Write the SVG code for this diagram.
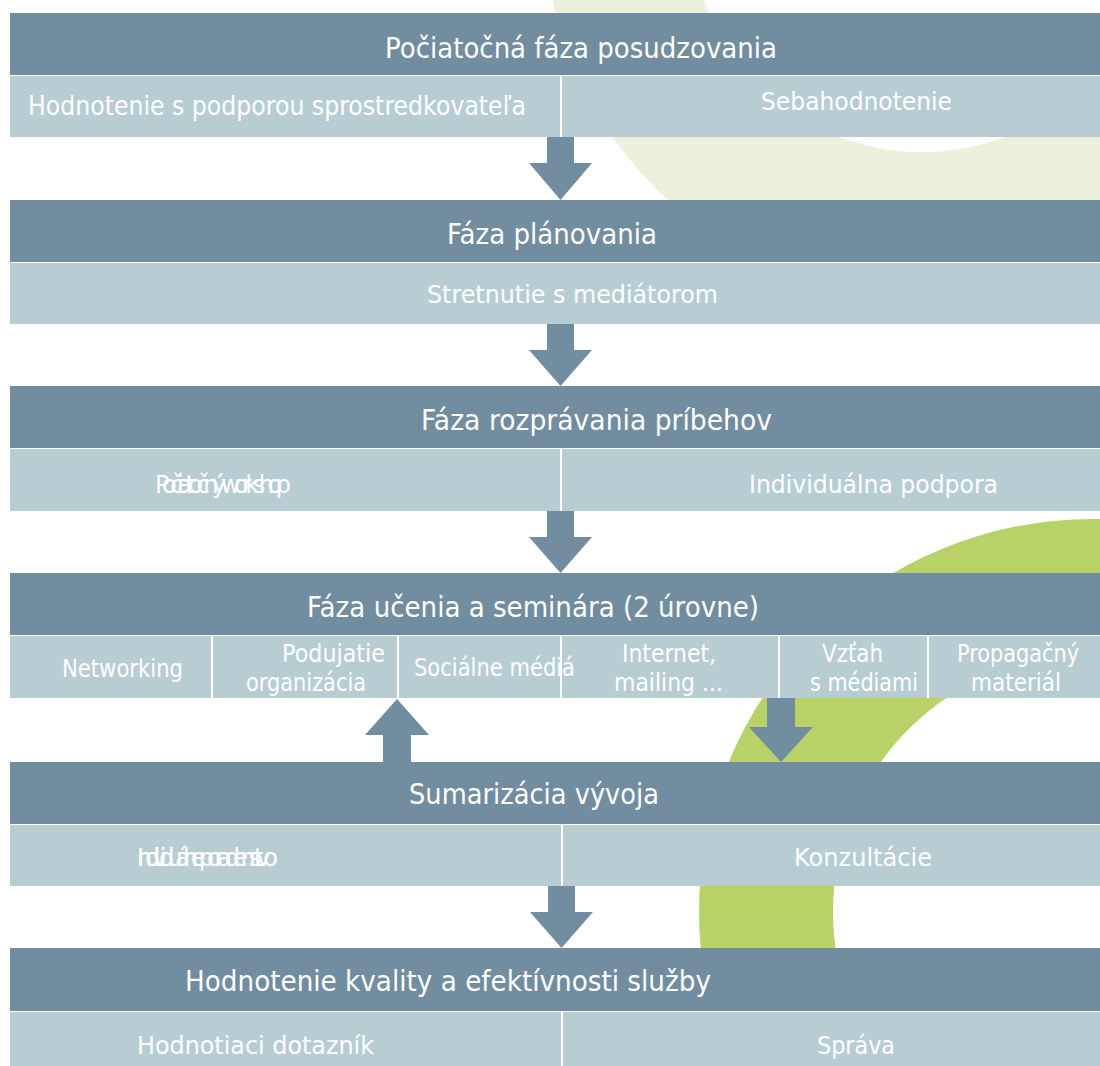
<svg xmlns="http://www.w3.org/2000/svg" width="1100" height="1066" viewBox="0 0 1100 1066">
  <style>
    .hdr { fill: #728ca0; }
    .sub { fill: #b7cdd2; }
    .back { fill: #ffffff; }
    .div { stroke: #ffffff; stroke-width: 2; }
    .arrow { fill: #728ca0; }
    text { font-family: "DejaVu Sans", "Open Sans", sans-serif; fill: #ffffff; }
    .ht { font-size: 29px; }
    .st { font-size: 24px; }
    .st1 { font-size: 27px; }
  </style>

  <rect x="0" y="0" width="1100" height="1066" fill="#ffffff"/>

  <!-- decorative rings behind the flow -->
  <g id="background">
    <path fill="#ebf1dd" fill-rule="evenodd" d="M 544,-80 a378,378 0 1,0 756,0 a378,378 0 1,0 -756,0 Z M 690,-80 a232,232 0 1,0 464,0 a232,232 0 1,0 -464,0 Z"/>
    <path fill="#b9d268" fill-rule="evenodd" d="M 699,912 a393,393 0 1,0 786,0 a393,393 0 1,0 -786,0 Z M 833,912 a259,259 0 1,0 518,0 a259,259 0 1,0 -518,0 Z"/>
  </g>

  <!-- phase 1 -->
  <g id="phase-assessment">
    <rect class="back" x="10" y="13" width="1095" height="124"/>
    <rect class="hdr" x="10" y="13" width="1095" height="62"/>
    <text class="ht" x="385" y="58" textLength="392" lengthAdjust="spacingAndGlyphs">Počiatočná fáza posudzovania</text>
    <rect class="sub" x="10" y="76" width="1095" height="61"/>
    <text class="st1" x="28" y="115" textLength="498" lengthAdjust="spacingAndGlyphs">Hodnotenie s podporou sprostredkovateľa</text>
    <text class="st" x="761" y="110" textLength="191" lengthAdjust="spacingAndGlyphs">Sebahodnotenie</text>
    <line class="div" x1="561" y1="76" x2="561" y2="137"/>
  </g>

  <!-- phase 2 -->
  <g id="phase-planning">
    <rect class="back" x="10" y="200" width="1095" height="124"/>
    <rect class="hdr" x="10" y="200" width="1095" height="62"/>
    <text class="ht" x="447" y="244" textLength="210" lengthAdjust="spacingAndGlyphs">Fáza plánovania</text>
    <rect class="sub" x="10" y="263" width="1095" height="61"/>
    <text class="st" x="427" y="303" textLength="291" lengthAdjust="spacingAndGlyphs">Stretnutie s mediátorom</text>
  </g>

  <!-- phase 3 -->
  <g id="phase-storytelling">
    <rect class="back" x="10" y="386" width="1095" height="125"/>
    <rect class="hdr" x="10" y="386" width="1095" height="62"/>
    <text class="ht" x="421" y="430" textLength="351" lengthAdjust="spacingAndGlyphs">Fáza rozprávania príbehov</text>
    <rect class="sub" x="10" y="449" width="1095" height="62"/>
    <text class="st" x="155" y="493" textLength="136" lengthAdjust="spacing">Počiatočný workshop</text>
    <text class="st" x="749" y="493" textLength="249" lengthAdjust="spacingAndGlyphs">Individuálna podpora</text>
    <line class="div" x1="561" y1="449" x2="561" y2="511"/>
  </g>

  <!-- phase 4 -->
  <g id="phase-learning">
    <rect class="back" x="10" y="573" width="1095" height="125"/>
    <rect class="hdr" x="10" y="573" width="1095" height="62"/>
    <text class="ht" x="307" y="617" textLength="452" lengthAdjust="spacingAndGlyphs">Fáza učenia a seminára (2 úrovne)</text>
    <rect class="sub" x="10" y="636" width="1095" height="62"/>
    <text class="st" x="62" y="677" textLength="121" lengthAdjust="spacingAndGlyphs">Networking</text>
    <text class="st" x="282" y="662" textLength="103" lengthAdjust="spacingAndGlyphs">Podujatie</text>
    <text class="st" x="246" y="691" textLength="120" lengthAdjust="spacingAndGlyphs">organizácia</text>
    <text class="st" x="414" y="676" textLength="161" lengthAdjust="spacingAndGlyphs">Sociálne médiá</text>
    <text class="st" x="622" y="662" textLength="94" lengthAdjust="spacingAndGlyphs">Internet,</text>
    <text class="st" x="614" y="691" textLength="109" lengthAdjust="spacingAndGlyphs">mailing ...</text>
    <text class="st" x="822" y="662" textLength="61" lengthAdjust="spacingAndGlyphs">Vzťah</text>
    <text class="st" x="810" y="691" textLength="108" lengthAdjust="spacingAndGlyphs">s médiami</text>
    <text class="st" x="957" y="662" textLength="122" lengthAdjust="spacingAndGlyphs">Propagačný</text>
    <text class="st" x="971" y="691" textLength="90" lengthAdjust="spacingAndGlyphs">materiál</text>
    <line class="div" x1="212" y1="636" x2="212" y2="698"/>
    <line class="div" x1="398" y1="636" x2="398" y2="698"/>
    <line class="div" x1="561" y1="636" x2="561" y2="698"/>
    <line class="div" x1="779" y1="636" x2="779" y2="698"/>
    <line class="div" x1="928" y1="636" x2="928" y2="698"/>
  </g>

  <!-- phase 5 -->
  <g id="phase-summary">
    <rect class="back" x="10" y="762" width="1095" height="124"/>
    <rect class="hdr" x="10" y="762" width="1095" height="62"/>
    <text class="ht" x="409" y="804" textLength="250" lengthAdjust="spacingAndGlyphs">Sumarizácia vývoja</text>
    <rect class="sub" x="10" y="825" width="1095" height="61"/>
    <text class="st" x="137" y="866" textLength="141" lengthAdjust="spacing">Individuálne poradenstvo</text>
    <text class="st" x="794" y="866" textLength="138" lengthAdjust="spacingAndGlyphs">Konzultácie</text>
    <line class="div" x1="562" y1="825" x2="562" y2="886"/>
  </g>

  <!-- phase 6 -->
  <g id="phase-evaluation">
    <rect class="back" x="10" y="948" width="1095" height="118"/>
    <rect class="hdr" x="10" y="948" width="1095" height="63"/>
    <text class="ht" x="185" y="991" textLength="526" lengthAdjust="spacingAndGlyphs">Hodnotenie kvality a efektívnosti služby</text>
    <rect class="sub" x="10" y="1012" width="1095" height="60"/>
    <text class="st" x="137" y="1054" textLength="237" lengthAdjust="spacingAndGlyphs">Hodnotiaci dotazník</text>
    <text class="st" x="817" y="1054" textLength="78" lengthAdjust="spacingAndGlyphs">Správa</text>
    <line class="div" x1="562" y1="1012" x2="562" y2="1066"/>
  </g>

  <!-- block arrows between phases -->
  <g id="connectors">
    <polygon class="arrow" points="547,137 574,137 574,163 592,163 560.5,200 529,163 547,163"/>
    <polygon class="arrow" points="547,324 574,324 574,350 592,350 560.5,386 529,350 547,350"/>
    <polygon class="arrow" points="547,511 574,511 574,537 592,537 560.5,573 529,537 547,537"/>
    <polygon class="arrow" points="383,762 411,762 411,735 429,735 397,699 365,735 383,735"/>
    <polygon class="arrow" points="767,698 795,698 795,727 813,727 781,762 749,727 767,727"/>
    <polygon class="arrow" points="548,886 575,886 575,912 593,912 561.5,948 530,912 548,912"/>
  </g>
</svg>
